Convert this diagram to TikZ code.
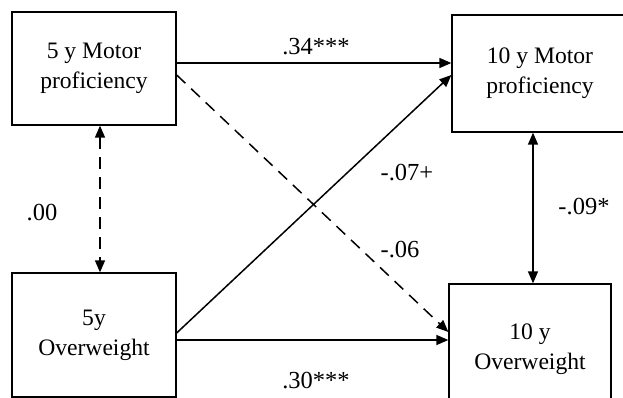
\documentclass[tikz,border=0pt]{standalone}
\usepackage{fontspec}
\setmainfont{Liberation Serif}
\usetikzlibrary{arrows.meta}
\begin{document}
\begin{tikzpicture}[x=1pt,y=-1pt,
  box/.style={draw,line width=1.3pt,align=center,font=\fontsize{23.6}{30}\selectfont,inner sep=0pt},
  lab/.style={font=\fontsize{24.5}{25}\selectfont,inner sep=0pt},
  conn/.style={line width=1.5pt,-{Triangle[length=12pt,width=10pt]}},
  both/.style={line width=1.5pt,{Triangle[length=12pt,width=10pt]}-{Triangle[length=12pt,width=10pt]}},
  dsh/.style={dash pattern=on 12pt off 8pt}]
\useasboundingbox (0,0) rectangle (623,398);
\clip (0,0) rectangle (623,398);
\node[box,minimum width=164pt,minimum height=113pt] (b1) at (94,68.5) {5 y Motor\\proficiency};
\node[box,minimum width=176pt,minimum height=117pt] (b2) at (540,73.5) {10 y Motor\\proficiency};
\node[box,minimum width=164pt,minimum height=124pt] (b3) at (94,335) {5y\\Overweight};
\node[box,minimum width=162pt,minimum height=130pt] (b4) at (530,349) {10 y\\Overweight};
\draw[conn] ([yshift=5.5pt]b1.east) -- ([yshift=10.5pt]b2.west);
\draw[conn,dsh] ([yshift=-6.5pt]b1.east) -- ([yshift=17pt]b4.west);
\draw[conn] ([yshift=2pt]b3.east) -- ([yshift=-1.5pt]b2.west);
\draw[conn] ([yshift=-5pt]b3.east) -- ([yshift=9pt]b4.west);
\draw[both,dsh] ([xshift=6pt]b1.south) -- ([xshift=6pt]b3.north);
\draw[both] ([xshift=-7pt]b2.south) -- ([xshift=3pt]b4.north);
\node[lab] (l1) at (316,47) {.34***};
\node[lab] (l2) at (407,173) {-.07+};
\node[lab] (l3) at (400,250) {-.06};
\node[lab] (l4) at (316,381) {.30***};
\node[lab] (l5) at (42,213) {.00};
\node[lab] (l6) at (584,207) {-.09*};
\end{tikzpicture}
\end{document}
